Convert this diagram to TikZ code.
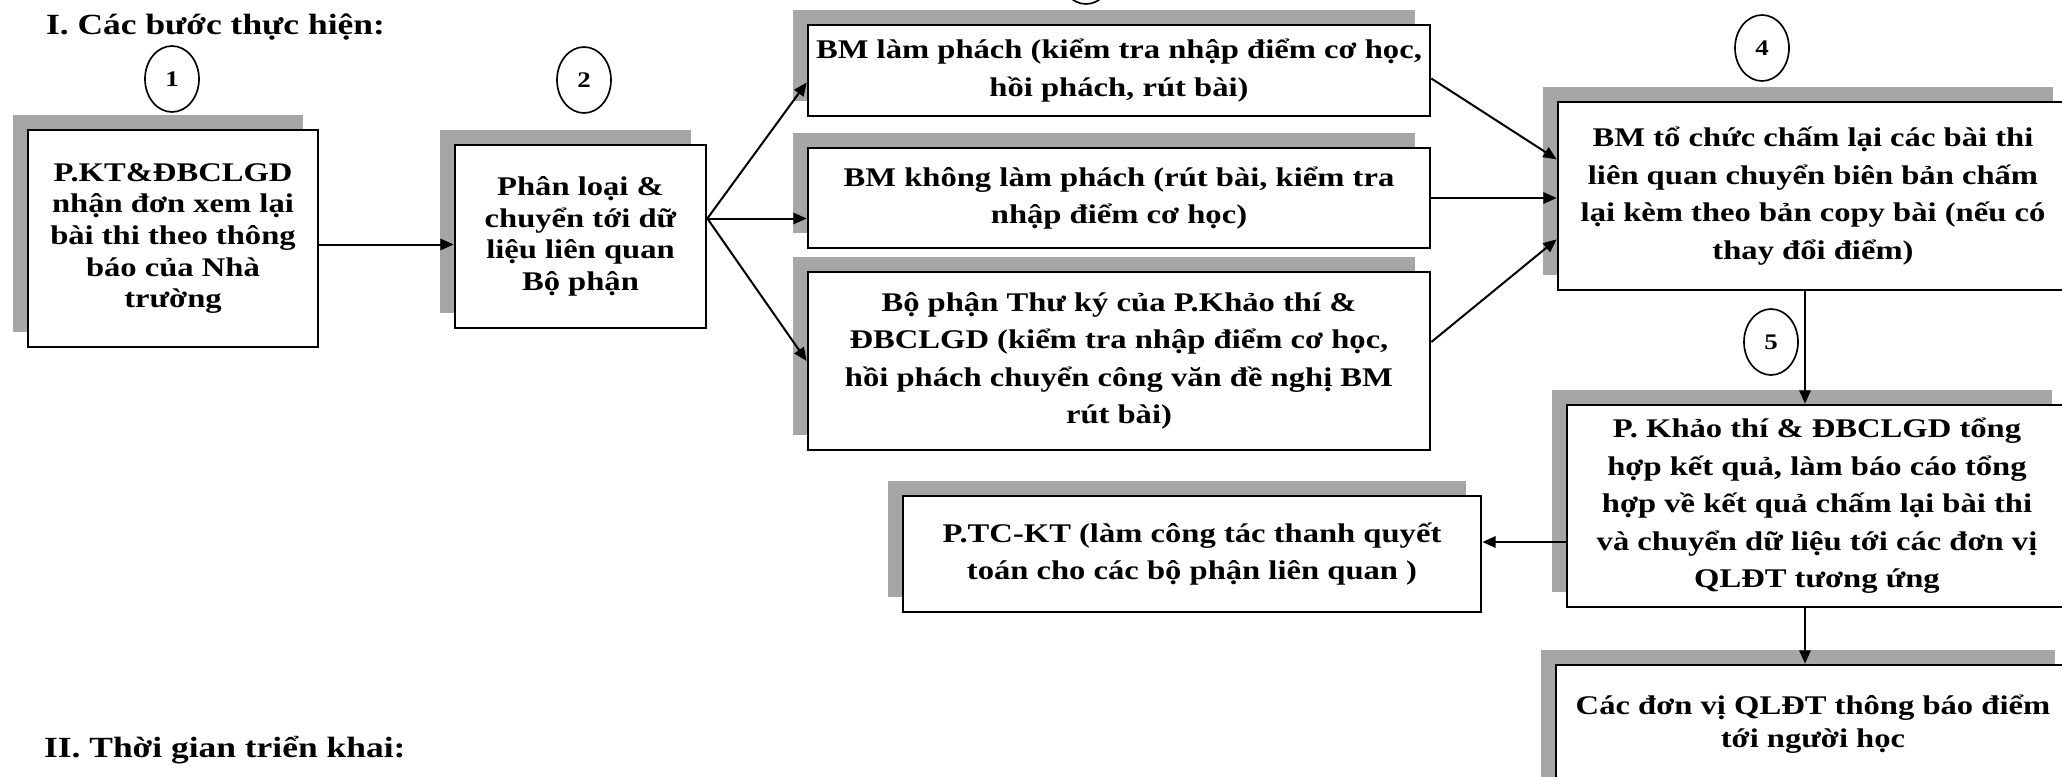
\documentclass[tikz,border=0pt]{standalone}
\usepackage{fontspec}
\setmainfont{Liberation Serif}[FakeStretch=1.21]
\usetikzlibrary{arrows.meta, shapes.geometric, shadows}
\tikzset{
  box/.style={draw, line width=0.8mm, fill=white, align=center, inner sep=1mm,
    font=\bfseries\fontsize{23}{32}\selectfont,
    drop shadow={shadow xshift=-4.5mm, shadow yshift=4.5mm, fill=black!35, opacity=1}},
  tight/.style={font=\bfseries\fontsize{23}{27}\selectfont},
  num/.style={draw, ellipse, line width=0.5mm, minimum width=16.2mm, minimum height=19.8mm,
    inner sep=0pt, font=\bfseries\fontsize{19}{19}\selectfont},
  arr/.style={line width=0.6mm, -{Triangle[length=4mm, width=3.4mm]}},
  head/.style={anchor=base west, font=\bfseries\fontsize{25}{30}\selectfont}
}

\begin{document}
\begin{tikzpicture}[x=0.3mm, y=-0.3mm]
\useasboundingbox (0,0) rectangle (2062,777);
\node (t1) at (42,35)[head] {I. Các bước thực hiện:};
\node (t2) at (40,757)[head] {II. Thời gian triển khai:};

\node (c1) at (172,79)[num] {1};
\node (c2) at (584,80)[num] {2};
\node (c3) at (1086,-29)[num] {};
\node (c4) at (1762,48)[num] {4};
\node (c5) at (1771,342)[num] {5};

\node (p1) at (173,238.5)[box, tight, minimum width=87mm, minimum height=65.1mm]
  {P.KT\&ĐBCLGD\\nhận đơn xem lại\\bài thi theo thông\\báo của Nhà\\trường};
\node (p2) at (580.5,236.5)[box, tight, minimum width=75.3mm, minimum height=54.9mm]
  {Phân loại \&\\chuyển tới dữ\\liệu liên quan\\Bộ phận};
\node (b1) at (1119,70.5)[box, minimum width=186.6mm, minimum height=27.3mm]
  {BM làm phách (kiểm tra nhập điểm cơ học,\\hồi phách, rút bài)};
\node (b2) at (1119,198)[box, minimum width=186.6mm, minimum height=30mm]
  {BM không làm phách (rút bài, kiểm tra\\nhập điểm cơ học)};
\node (b3) at (1119,361)[box, minimum width=186.6mm, minimum height=53.4mm]
  {Bộ phận Thư ký của P.Khảo thí \&\\ĐBCLGD (kiểm tra nhập điểm cơ học,\\hồi phách chuyển công văn đề nghị BM\\rút bài)};
\node (p4) at (1813,196)[box, minimum width=153mm, minimum height=56.4mm]
  {BM tổ chức chấm lại các bài thi\\liên quan chuyển biên bản chấm\\lại kèm theo bản copy bài (nếu có\\thay đổi điểm)};
\node (p5) at (1817,506)[box, minimum width=150mm, minimum height=60.6mm]
  {P. Khảo thí \& ĐBCLGD tổng\\hợp kết quả, làm báo cáo tổng\\hợp về kết quả chấm lại bài thi\\và chuyển dữ liệu tới các đơn vị\\QLĐT tương ứng};
\node (p6) at (1192,554)[box, minimum width=173.4mm, minimum height=34.8mm]
  {P.TC-KT (làm công tác thanh quyết\\toán cho các bộ phận liên quan )};
\node (p7) at (1813,740)[box, minimum width=154.2mm, minimum height=45mm] {};
\node (p7t) at (1813,724)[align=center, font=\bfseries\fontsize{23}{28.5}\selectfont]
  {Các đơn vị QLĐT thông báo điểm\\tới người học};

\coordinate (f) at ([yshift=5.4mm]p2.east);
\draw[arr] ([yshift=-1.8mm]p1.east) -- ([yshift=-1.8mm]p1.east -| p2.west);
\draw[arr] (f) -- ([yshift=-3.6mm]b1.west);
\draw[arr] (f) -- (f -| b2.west);
\draw[arr] (f) -- (b3.west);
\draw[arr] ([yshift=-2.4mm]b1.east) -- ([yshift=11mm]p4.west);
\draw[arr] (b2.east) -- (b2.east -| p4.west);
\draw[arr] ([yshift=5.7mm]b3.east) -- ([yshift=-13mm]p4.west);
\draw[arr] ([xshift=-2.4mm]p4.south) -- ([xshift=-2.4mm]p4.south |- p5.north);
\draw[arr] ([yshift=3.6mm]p6.east -| p5.west) -- ([yshift=3.6mm]p6.east);
\draw[arr] ([xshift=-3.6mm]p5.south) -- ([xshift=-3.6mm]p5.south |- p7.north);
\end{tikzpicture}
\end{document}
